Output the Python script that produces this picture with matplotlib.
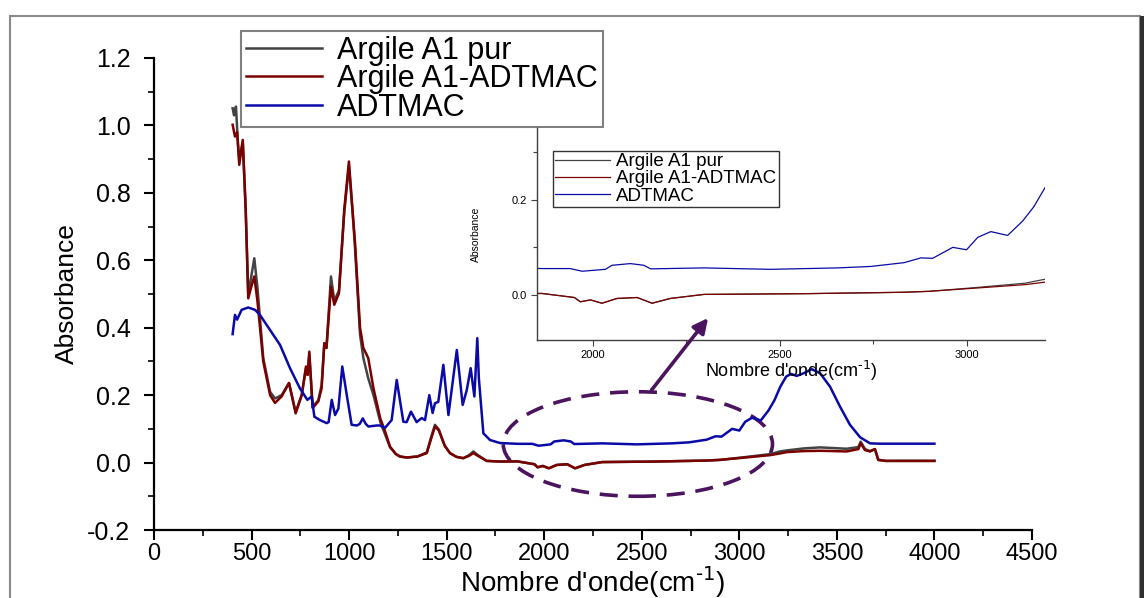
import matplotlib
matplotlib.use("Agg")
import matplotlib.pyplot as plt
from matplotlib.patches import Ellipse, Rectangle
from matplotlib.ticker import MultipleLocator, FormatStrFormatter

plt.rcParams['font.family'] = ['Liberation Sans', 'DejaVu Sans']
plt.rcParams['mathtext.default'] = 'regular'
plt.rcParams['axes.unicode_minus'] = False

# ---------------- data ----------------
labels = ["Argile A1 pur", "Argile A1-ADTMAC", "ADTMAC"]

wn_pur = [403, 410, 420, 430, 437, 455, 470, 483, 498, 514, 530, 560, 595, 620, 654,
          692, 726, 757, 779, 787, 796, 813, 842, 859, 873, 884, 907, 924, 948, 975,
          999, 1018, 1030, 1056, 1073, 1098, 1125, 1160, 1180, 1210, 1240, 1261, 1295,
          1350, 1398, 1420, 1440, 1460, 1490, 1517, 1550, 1585, 1615, 1637, 1660, 1705,
          1773, 1863, 1950, 1966, 1993, 2024, 2064, 2118, 2158, 2207, 2297, 2565, 2833,
          2901, 3012, 3157, 3208, 3243, 3330, 3414, 3550, 3610, 3622, 3644, 3670, 3695,
          3712, 3750, 4000]
abs_pur = [1.051, 1.03, 1.056, 0.95, 0.90, 0.95, 0.75, 0.50, 0.55, 0.606, 0.52, 0.31,
           0.21, 0.19, 0.20, 0.236, 0.15, 0.20, 0.28, 0.26, 0.32, 0.165, 0.185, 0.23,
           0.354, 0.34, 0.552, 0.48, 0.51, 0.74, 0.88, 0.74, 0.64, 0.38, 0.31, 0.25, 0.20,
           0.12, 0.09, 0.045, 0.025, 0.018, 0.015, 0.018, 0.03, 0.075, 0.112, 0.098, 0.05,
           0.028, 0.017, 0.013, 0.022, 0.033, 0.022, 0.005, 0.003, 0.0035, -0.005, -0.014,
           -0.01, -0.017, -0.007, -0.005, -0.017, -0.007, 0.0015, 0.003, 0.006, 0.008,
           0.015, 0.025, 0.033, 0.036, 0.042, 0.045, 0.041, 0.046, 0.062, 0.04, 0.034,
           0.04, 0.008, 0.005, 0.005]

wn_mod = [403, 415, 426, 437, 455, 470, 483, 498, 514, 530, 560, 595, 620, 654, 692,
          726, 757, 779, 787, 796, 813, 842, 859, 873, 884, 907, 924, 948, 975, 999,
          1018, 1030, 1056, 1073, 1098, 1125, 1160, 1180, 1210, 1240, 1261, 1295, 1350,
          1398, 1420, 1440, 1460, 1490, 1517, 1550, 1585, 1615, 1637, 1660, 1705, 1773,
          1863, 1950, 1966, 1993, 2024, 2064, 2118, 2158, 2207, 2297, 2565, 2833, 2901,
          3012, 3157, 3208, 3243, 3330, 3414, 3550, 3610, 3622, 3644, 3670, 3695, 3712,
          3750, 4000]
abs_mod = [1.002, 0.967, 0.98, 0.883, 0.957, 0.75, 0.487, 0.52, 0.552, 0.48, 0.30, 0.20,
           0.177, 0.196, 0.236, 0.146, 0.20, 0.285, 0.26, 0.329, 0.162, 0.181, 0.22,
           0.354, 0.34, 0.522, 0.468, 0.502, 0.75, 0.893, 0.745, 0.655, 0.40, 0.34, 0.31,
           0.22, 0.13, 0.10, 0.047, 0.025, 0.018, 0.015, 0.018, 0.028, 0.07, 0.107, 0.095,
           0.05, 0.028, 0.017, 0.013, 0.02, 0.028, 0.02, 0.005, 0.003, 0.0035, -0.005,
           -0.014, -0.01, -0.017, -0.007, -0.005, -0.017, -0.007, 0.0015, 0.003, 0.006,
           0.008, 0.014, 0.022, 0.027, 0.031, 0.034, 0.035, 0.033, 0.04, 0.057, 0.037,
           0.033, 0.04, 0.008, 0.005, 0.005]

wn_adt = [403, 415, 426, 449, 483, 518, 543, 595, 646, 697, 748, 786, 808, 822, 851,
          885, 895, 911, 928, 945, 965, 988, 1013, 1040, 1055, 1070, 1085, 1099, 1142,
          1158, 1184, 1218, 1244, 1278, 1295, 1317, 1346, 1372, 1389, 1411, 1428, 1440,
          1457, 1483, 1509, 1552, 1582, 1603, 1623, 1642, 1657, 1665, 1688, 1722, 1773,
          1863, 1939, 1971, 2033, 2051, 2100, 2136, 2154, 2297, 2475, 2654, 2743, 2833,
          2878, 2909, 2963, 3000, 3030, 3065, 3110, 3150, 3180, 3210, 3240, 3265, 3294,
          3330, 3371, 3414, 3465, 3516, 3567, 3619, 3670, 3720, 4000]
abs_adt = [0.381, 0.438, 0.424, 0.453, 0.46, 0.453, 0.438, 0.393, 0.349, 0.28, 0.22,
           0.186, 0.196, 0.136, 0.126, 0.117, 0.12, 0.186, 0.141, 0.16, 0.285, 0.20,
           0.112, 0.11, 0.115, 0.131, 0.115, 0.107, 0.11, 0.11, 0.103, 0.126, 0.245,
           0.121, 0.12, 0.151, 0.12, 0.132, 0.126, 0.20, 0.147, 0.176, 0.18, 0.29, 0.141,
           0.334, 0.171, 0.215, 0.28, 0.196, 0.369, 0.25, 0.087, 0.067, 0.058, 0.0556,
           0.0556, 0.05, 0.054, 0.0625, 0.066, 0.0625, 0.055, 0.057, 0.054, 0.057, 0.06,
           0.068, 0.078, 0.077, 0.10, 0.095, 0.121, 0.133, 0.125, 0.155, 0.185, 0.225,
           0.255, 0.263, 0.257, 0.265, 0.277, 0.265, 0.225, 0.166, 0.112, 0.075, 0.057,
           0.056, 0.056]

series = [(wn_pur, abs_pur, "#434343"), (wn_mod, abs_mod, "#7a0000"), (wn_adt, abs_adt, "#0a0aa8")]
xlabel_txt = "Nombre d'onde(cm$^{\\text{-1}}$)"

# ---------------- figure ----------------
fig = plt.figure(figsize=(11.47, 5.98), dpi=100)
fig.patch.set_facecolor("white")

# outer frame
top_f = 1.0 - 16 / 598
fig.add_artist(Rectangle((10 / 1147, -0.02), 1130 / 1147, top_f + 0.02,
                         transform=fig.transFigure, fill=False, edgecolor="#8a8a8a", lw=1.5))
fig.add_artist(Rectangle((1140 / 1147, -0.02), 4 / 1147, top_f + 0.02,
                         transform=fig.transFigure, fill=True, facecolor="#303030", edgecolor="none"))

ax = fig.add_axes([154 / 1147, 68 / 598, 878 / 1147, 472 / 598])
for x, y, c in series:
    ax.plot(x, y, color=c, lw=1.8)

ax.set_xlim(0, 4500)
ax.set_ylim(-0.2, 1.2)
ax.xaxis.set_major_locator(MultipleLocator(500))
ax.xaxis.set_minor_locator(MultipleLocator(250))
ax.yaxis.set_major_locator(MultipleLocator(0.2))
ax.yaxis.set_minor_locator(MultipleLocator(0.1))
ax.yaxis.set_major_formatter(FormatStrFormatter('%.1f'))
for s in ("top", "right"):
    ax.spines[s].set_visible(False)
for s in ("left", "bottom"):
    ax.spines[s].set_linewidth(1.6)
ax.tick_params(which="major", direction="out", length=7, width=1.5, labelsize=18)
ax.tick_params(axis="y", which="major", pad=10)
ax.tick_params(axis="x", which="major", pad=2, labelsize=17)
ax.tick_params(which="minor", direction="out", length=4, width=1.2)
ax.set_xlabel(xlabel_txt, fontsize=20, labelpad=0)
ax.set_ylabel("Absorbance", fontsize=19, labelpad=6)

handles = ax.get_lines()
leg = ax.legend(handles, labels, loc="upper left", bbox_to_anchor=(241 / 1147, 1 - 31 / 598),
                bbox_transform=fig.transFigure, fontsize=22, frameon=True, fancybox=False,
                borderpad=0.15, labelspacing=-0.05, handlelength=2.5, handletextpad=0.5,
                borderaxespad=0.0)
leg.get_frame().set_edgecolor("#606060")
leg.get_frame().set_linewidth(1.5)

purple = "#4a145e"
ax.add_patch(Ellipse((2480, 0.055), 1380, 0.31, fill=False, edgecolor=purple,
                     lw=2.6, linestyle=(0, (5, 3))))

# ---------------- inset ----------------
axins = fig.add_axes([537 / 1147, 258 / 598, 508 / 1147, 212 / 598])
axins.set_facecolor("white")
for x, y, c in series:
    axins.plot(x, y, color=c, lw=0.9)
axins.set_xlim(1850, 3210)
axins.set_ylim(-0.094, 0.35)
axins.xaxis.set_major_locator(MultipleLocator(500))
axins.xaxis.set_minor_locator(MultipleLocator(250))
axins.yaxis.set_major_locator(MultipleLocator(0.2))
axins.yaxis.set_minor_locator(MultipleLocator(0.1))
axins.yaxis.set_major_formatter(FormatStrFormatter('%.1f'))
for s in ("top", "right"):
    axins.spines[s].set_visible(False)
for s in ("left", "bottom"):
    axins.spines[s].set_linewidth(1.0)
    axins.spines[s].set_color("#404040")
axins.tick_params(which="major", direction="out", length=4, width=0.8, labelsize=8,
                  color="#404040")
axins.tick_params(which="minor", direction="out", length=3, width=0.8, color="#404040")
axins.set_xlabel(xlabel_txt, fontsize=13, labelpad=-1)
axins.set_ylabel("Absorbance", fontsize=7.5, labelpad=22)

ileg = axins.legend(axins.get_lines(), labels, loc="upper left",
                    bbox_to_anchor=(553 / 1147, 1 - 151 / 598), bbox_transform=fig.transFigure,
                    fontsize=13.5, frameon=True, fancybox=False, borderpad=0.12,
                    labelspacing=0.0, handlelength=2.9, handletextpad=0.35, borderaxespad=0.0)
ileg.get_frame().set_edgecolor("black")
ileg.get_frame().set_linewidth(1.0)

# arrow from ellipse to inset
axins.annotate("", xy=(2308, -0.048), xycoords="data",
               xytext=(2550, 0.215), textcoords=ax.transData,
               arrowprops=dict(arrowstyle="-|>", color=purple, lw=2.6, mutation_scale=22,
                               shrinkA=0, shrinkB=0),
               annotation_clip=False)

fig.savefig("out.png", dpi=100, facecolor="white")
